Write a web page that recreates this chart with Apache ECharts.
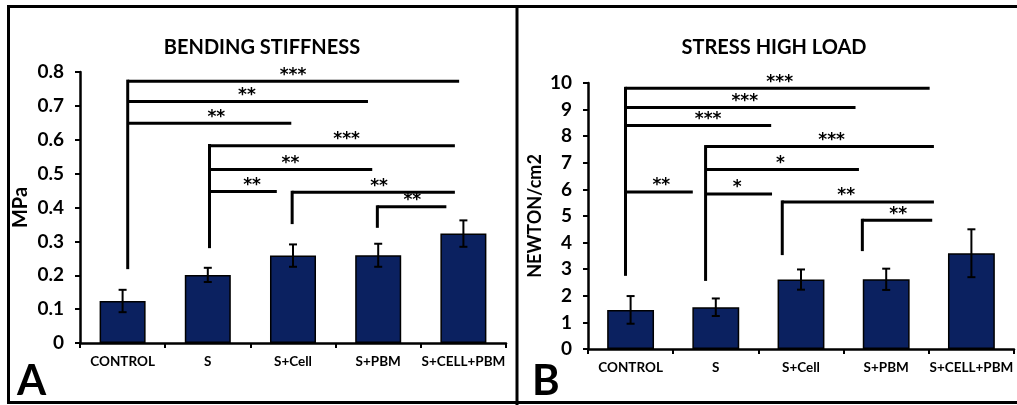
<!DOCTYPE html>
<html><head><meta charset="utf-8">
<script src="https://cdn.jsdelivr.net/npm/echarts@6/dist/echarts.min.js"></script>
<style>html,body{margin:0;padding:0;background:#fff}#c{width:1017px;height:405px}</style>
</head><body><div id="c"></div>
<script>
const categories = ['CONTROL', 'S', 'S+Cell', 'S+PBM', 'S+CELL+PBM'];
const bendingMean = [0.124, 0.201, 0.258, 0.259, 0.323];
const bendingErr = [0.033, 0.021, 0.033, 0.034, 0.039];
const stressMean = [1.47, 1.57, 2.61, 2.62, 3.60];
const stressErr = [0.52, 0.33, 0.38, 0.40, 0.90];
const titles = ['BENDING STIFFNESS', 'STRESS HIGH LOAD'];
const yNames = ['MPa', 'NEWTON/cm2'];
const panelLetters = ['A', 'B'];
// brackets: verticals [x, yBottom, yTop]; lines [xStart, xEnd, y, label, labelX]
const bendingVerticals = [[0.06, 0.218, 0.773], [1.02, 0.28, 0.583], [1.99, 0.351, 0.445], [2.99, 0.340, 0.402]];
const bendingLines = [
  [0.06, 3.95, 0.773, '***', 2.0], [0.06, 2.88, 0.713, '**', 1.46], [0.06, 1.98, 0.649, '**', 1.10],
  [1.02, 3.90, 0.582, '***', 2.63], [1.02, 2.93, 0.512, '**', 1.97], [1.02, 1.81, 0.447, '**', 1.52],
  [1.99, 3.90, 0.445, '**', 3.01], [2.99, 3.80, 0.402, '**', 3.40]
];
const stressVerticals = [[-0.06, 2.75, 9.80], [0.88, 2.56, 7.61], [1.78, 3.53, 5.53], [2.72, 3.68, 4.84]];
const stressLines = [
  [-0.06, 3.51, 9.80, '***', 1.75], [-0.06, 2.64, 9.08, '***', 1.34], [-0.06, 1.65, 8.40, '***', 0.91],
  [-0.06, 0.73, 5.90, '**', 0.36], [0.88, 3.56, 7.61, '***', 2.36], [0.88, 2.68, 6.75, '*', 1.76],
  [0.88, 1.66, 5.83, '*', 1.25], [1.78, 3.56, 5.53, '**', 2.53], [2.72, 3.54, 4.84, '**', 3.14]
];

const FONT = 'Lato';
const BAR = '#0b2160';

function errSeries(mean, err, xi, yi) {
  return {
    type: 'custom', xAxisIndex: xi, yAxisIndex: yi, z: 5,
    data: mean.map((m, i) => [i, m - err[i], m + err[i]]),
    renderItem: (p, api) => {
      const lo = api.coord([api.value(0), api.value(1)]);
      const hi = api.coord([api.value(0), api.value(2)]);
      const w = 4;
      const st = {stroke: '#000', lineWidth: 2};
      return {type: 'group', children: [
        {type: 'line', shape: {x1: lo[0], y1: lo[1], x2: hi[0], y2: hi[1]}, style: st},
        {type: 'line', shape: {x1: lo[0] - w, y1: lo[1], x2: lo[0] + w, y2: lo[1]}, style: st},
        {type: 'line', shape: {x1: hi[0] - w, y1: hi[1], x2: hi[0] + w, y2: hi[1]}, style: st}
      ]};
    }
  };
}
function vertSeries(v, xi, yi) {
  return {
    type: 'custom', xAxisIndex: xi, yAxisIndex: yi, z: 6, data: v,
    renderItem: (p, api) => {
      const a = api.coord([api.value(0), api.value(1)]);
      const b = api.coord([api.value(0), api.value(2)]);
      return {type: 'line', shape: {x1: a[0], y1: a[1], x2: b[0], y2: b[1] - 1.5}, style: {stroke: '#000', lineWidth: 3}};
    }
  };
}
function lineSeries(lines, xi, yi) {
  return {
    type: 'custom', xAxisIndex: xi, yAxisIndex: yi, z: 6,
    data: lines.map(l => [l[0], l[1], l[2], l[4]]),
    renderItem: (p, api) => {
      const a = api.coord([api.value(0), api.value(2)]);
      const b = api.coord([api.value(1), api.value(2)]);
      const t = api.coord([api.value(3), api.value(2)]);
      return {type: 'group', children: [
        {type: 'line', shape: {x1: a[0], y1: a[1], x2: b[0], y2: b[1]}, style: {stroke: '#000', lineWidth: 3}},
        {type: 'text', style: {text: lines[p.dataIndex][3], x: t[0], y: t[1] - 6, textAlign: 'center', textVerticalAlign: 'middle', align: 'center', verticalAlign: 'middle', font: 'bold 17px "DejaVu Sans"', fill: '#000'}}
      ]};
    }
  };
}
function catAxis(g) {
  return {type: 'category', gridIndex: g, data: categories,
    axisLine: {lineStyle: {color: '#000', width: 2.5}},
    axisTick: {show: true, length: 5, lineStyle: {color: '#000', width: 2}},
    axisLabel: {color: '#000', fontFamily: FONT, fontWeight: 'bold', fontSize: 13.5, margin: 12, interval: 0}};
}
function hidAxis(g) { return {type: 'value', gridIndex: g, min: -0.5, max: 4.5, show: false}; }
function valAxis(g, max, interval, name, gap, nsize) {
  return {type: 'value', gridIndex: g, min: 0, max: max, interval: interval,
    name: name, nameLocation: 'middle', nameGap: gap, nameRotate: 90,
    nameTextStyle: {color: '#000', fontFamily: FONT, fontWeight: 'bold', fontSize: nsize},
    axisLine: {show: true, onZero: false, lineStyle: {color: '#000', width: 2.5}},
    axisTick: {show: true, length: 5, lineStyle: {color: '#000', width: 2}},
    splitLine: {show: false},
    axisLabel: {color: '#000', fontFamily: FONT, fontWeight: 'bold', fontSize: 19, margin: 16}};
}
const bs = {color: BAR, borderColor: '#000', borderWidth: 1.5};
const option = {
  animation: false,
  backgroundColor: '#fff',
  title: [
    {text: titles[0], left: 257, top: 33, textAlign: 'center', textStyle: {fontFamily: FONT, fontWeight: 'bold', fontSize: 20, color: '#000'}},
    {text: titles[1], left: 769, top: 33, textAlign: 'center', textStyle: {fontFamily: FONT, fontWeight: 'bold', fontSize: 20, color: '#000'}}
  ],
  grid: [
    {left: 80, top: 72, width: 426, height: 271},
    {left: 588, top: 83, width: 426, height: 266}
  ],
  xAxis: [catAxis(0), hidAxis(0), catAxis(1), hidAxis(1)],
  yAxis: [valAxis(0, 0.8, 0.1, yNames[0], 49, 20), valAxis(1, 10, 1, yNames[1], 44, 18)],
  series: [
    {type: 'bar', xAxisIndex: 0, yAxisIndex: 0, data: bendingMean, barWidth: '54%', itemStyle: bs},
    errSeries(bendingMean, bendingErr, 0, 0),
    vertSeries(bendingVerticals, 1, 0),
    lineSeries(bendingLines, 1, 0),
    {type: 'bar', xAxisIndex: 2, yAxisIndex: 1, data: stressMean, barWidth: '55%', itemStyle: bs},
    errSeries(stressMean, stressErr, 2, 1),
    vertSeries(stressVerticals, 3, 1),
    lineSeries(stressLines, 3, 1)
  ],
  graphic: [
    {type: 'line', shape: {x1: 7, y1: 6.5, x2: 1017, y2: 6.5}, style: {stroke: '#000', lineWidth: 3}},
    {type: 'line', shape: {x1: 8.5, y1: 5, x2: 8.5, y2: 403}, style: {stroke: '#000', lineWidth: 3}},
    {type: 'line', shape: {x1: 517, y1: 5, x2: 517, y2: 405}, style: {stroke: '#000', lineWidth: 3}},
    {type: 'line', shape: {x1: 7, y1: 402.5, x2: 1017, y2: 402.5}, style: {stroke: '#000', lineWidth: 3}},
    {type: 'text', left: 17, top: 360, style: {text: panelLetters[0], font: 'bold 42px ' + FONT, fill: '#000'}},
    {type: 'text', left: 532, top: 360, style: {text: panelLetters[1], font: 'bold 42px ' + FONT, fill: '#000'}}
  ]
};
const chart = echarts.init(document.getElementById('c'), null, {renderer: 'canvas'});
chart.setOption(option);
</script></body></html>
